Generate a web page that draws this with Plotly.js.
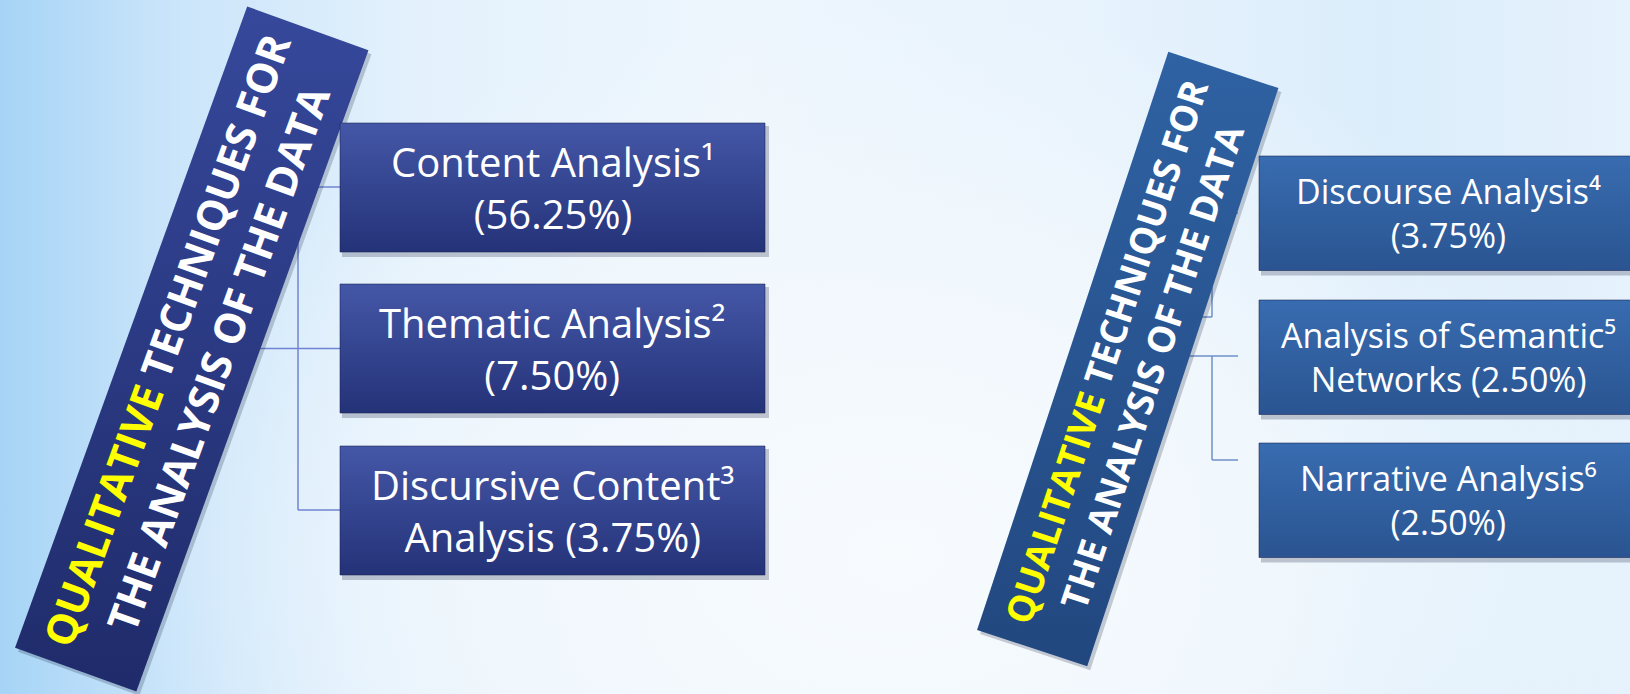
<!DOCTYPE html>
<html><head><meta charset="utf-8">
<script src="https://cdn.plot.ly/plotly-3.0.1.min.js"></script>
<style>
html,body{margin:0;padding:0;width:1630px;height:694px;overflow:hidden;}
#bg{position:absolute;left:0;top:0;width:1630px;height:694px;
background:
 radial-gradient(ellipse 900px 650px at 55% 80%, rgba(247,251,254,1) 0%, rgba(242,248,253,0.85) 45%, rgba(242,248,253,0) 85%),
 linear-gradient(to right, #a6d4f6 0%, #c9e4fa 10%, #e3f1fc 25%, #eef6fd 45%, #e8f3fd 65%, #dbedfb 85%, #e6f2fc 100%);}
#chart{position:absolute;left:0;top:0;width:1630px;height:694px;}
</style></head>
<body><div id="bg"></div><div id="chart"></div>
<script>
// ---- data ----
const leftHead  = ["Content Analysis", "Thematic Analysis", "Discursive Content"];
const leftTail  = ["", "", "Analysis"];
const leftShare = [56.25, 7.50, 3.75];
const leftNote  = [1, 2, 3];
const rightHead  = ["Discourse Analysis", "Analysis of Semantic", "Narrative Analysis"];
const rightTail  = ["", "Networks", ""];
const rightShare = [3.75, 2.50, 2.50];
const rightNote  = [4, 5, 6];
const titleHighlight = "QUALITATIVE";
const titleRest = "TECHNIQUES FOR";
const titleLine2 = "THE ANALYSIS OF THE DATA";

// ---- layout geometry / styles ----
const W = 1630, H = 694;
const SUP = ['\u2070', '\u00B9', '\u00B2', '\u00B3', '\u2074', '\u2075', '\u2076', '\u2077', '\u2078', '\u2079'];
const panels = [
  {head: leftHead, tail: leftTail, share: leftShare, note: leftNote,
   banner: {cx: 191.75, cy: 349, len: 682, wid: 129, ang: 19.9, c0: '#36489b', c1: '#1f2b6a', fs: 42},
   box: {x0: 340, x1: 765, tops: [123, 284, 446], h: 129, c0: '#4457a7', c1: '#243278', fs: 40, dy: 0},
   lineColor: '#6f84d2',
   lines: [[298,187,298,510],[240,348.5,298,348.5],[280,187,340,187],[298,348.5,340,348.5],[298,510,340,510]]},
  {head: rightHead, tail: rightTail, share: rightShare, note: rightNote,
   banner: {cx: 1127.75, cy: 359, len: 609, wid: 116, ang: 18.3, c0: '#2f62a3', c1: '#22477f', fs: 37},
   box: {x0: 1259, x1: 1637, tops: [156, 300, 443], h: 114.5, c0: '#386cb0', c1: '#2a5491', fs: 34, dy: 0},
   lineColor: '#6f91c9',
   lines: [[1212,213,1238,213],[1212,213,1212,317],[1180,317,1212,317],[1180,356,1238,356],[1212,356,1212,460],[1212,460,1238,460]]}
];

const traces = [];
const shapes = [];
const annotations = [];

function rectCorners(b) {
  const a = b.ang * Math.PI / 180;
  const u = [Math.sin(a), -Math.cos(a)];   // along the banner, upward
  const n = [Math.cos(a), Math.sin(a)];    // across the banner
  return [[-1,-1],[1,-1],[1,1],[-1,1]].map(([s,t]) => [
    b.cx + u[0]*s*b.len/2 + n[0]*t*b.wid/2,
    b.cy + u[1]*s*b.len/2 + n[1]*t*b.wid/2]);
}
function pathOf(pts, dx, dy) {
  return 'M' + pts.map(p => (p[0]+dx) + ',' + (p[1]+dy)).join(' L') + ' Z';
}
function fillTrace(xs, ys, c0, c1, lineColor) {
  const ymin = Math.min(...ys), ymax = Math.max(...ys);
  return {type: 'scatter', mode: 'lines', x: xs.concat([xs[0]]), y: ys.concat([ys[0]]),
    fill: 'toself', line: {width: lineColor ? 1 : 0, color: lineColor || 'rgba(0,0,0,0)'},
    fillgradient: {type: 'vertical', start: ymin, stop: ymax, colorscale: [[0, c0], [1, c1]]},
    hoverinfo: 'skip', showlegend: false};
}
const supOf = n => String(n).split('').map(d => SUP[+d]).join('');

panels.forEach(p => {
  p.lines.forEach(l => shapes.push({type: 'line', layer: 'below', xref: 'x', yref: 'y',
    x0: l[0], y0: l[1], x1: l[2], y1: l[3], line: {color: p.lineColor, width: 1.5}}));
  const pts = rectCorners(p.banner);
  shapes.push({type: 'path', layer: 'below', xref: 'x', yref: 'y', path: pathOf(pts, 3, 4),
    fillcolor: 'rgba(20,30,60,0.22)', line: {width: 0}});
  traces.push(fillTrace(pts.map(q => q[0]), pts.map(q => q[1]), p.banner.c0, p.banner.c1));
  annotations.push({xref: 'x', yref: 'y', x: p.banner.cx, y: p.banner.cy, showarrow: false,
    textangle: -(90 - p.banner.ang), align: 'center',
    text: '<span style="color:#ffff00">' + titleHighlight + '</span> ' + titleRest + '<br>' + titleLine2,
    font: {family: 'Open Sans', size: p.banner.fs, color: '#ffffff', weight: 700}});
  const bx = p.box;
  p.head.forEach((name, i) => {
    const y0 = bx.tops[i], y1 = y0 + bx.h;
    shapes.push({type: 'rect', layer: 'below', xref: 'x', yref: 'y', x0: bx.x0 + 2, x1: bx.x1 + 4, y0: y0 + 3, y1: y1 + 5,
      fillcolor: 'rgba(30,40,70,0.25)', line: {width: 0}});
    traces.push(fillTrace([bx.x0, bx.x1, bx.x1, bx.x0], [y0, y0, y1, y1], bx.c0, bx.c1, 'rgba(25,35,80,0.55)'));
    const cx = (bx.x0 + bx.x1) / 2, cy = (y0 + y1) / 2;
    const line1 = name + supOf(p.note[i]);
    const line2 = (p.tail[i] ? p.tail[i] + ' ' : '') + '(' + p.share[i].toFixed(2) + '%)';
    annotations.push({xref: 'x', yref: 'y', x: cx, y: cy + bx.dy, showarrow: false, align: 'center',
      text: line1 + '<br>' + line2, font: {family: 'Open Sans', size: bx.fs, color: '#ffffff'}});
  });
});

const layout = {
  width: W, height: H, margin: {l: 0, r: 0, t: 0, b: 0},
  paper_bgcolor: 'rgba(0,0,0,0)', plot_bgcolor: 'rgba(0,0,0,0)',
  xaxis: {range: [0, W], visible: false, fixedrange: true},
  yaxis: {range: [H, 0], visible: false, fixedrange: true},
  showlegend: false, shapes: shapes, annotations: annotations, hovermode: false
};
Plotly.newPlot('chart', traces, layout, {staticPlot: true, displayModeBar: false});
</script></body></html>
